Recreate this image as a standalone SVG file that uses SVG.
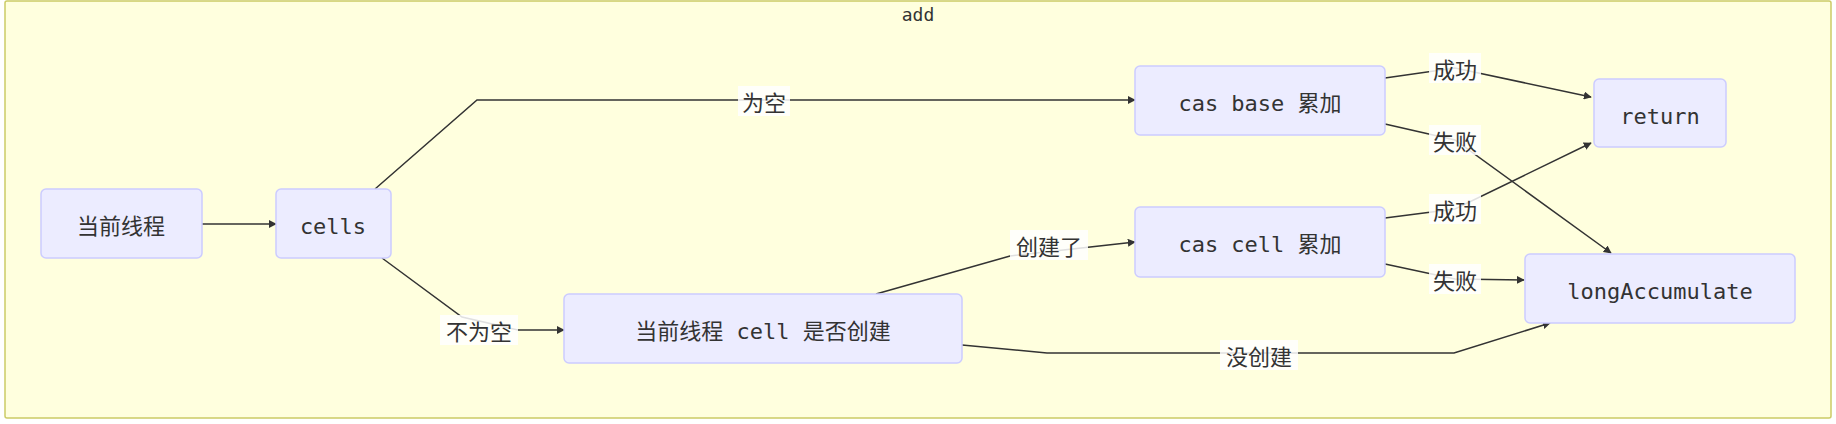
<svg xmlns="http://www.w3.org/2000/svg" width="1836" height="424" viewBox="0 0 1836 424">
<defs>
<marker id="arr" viewBox="0 0 10 10" refX="9" refY="5" markerWidth="8" markerHeight="8" orient="auto" markerUnits="userSpaceOnUse"><path d="M0,0 L10,5 L0,10 z" fill="#333"/></marker>
<style>
.n{fill:#ececff;stroke:#ccccff;stroke-width:1.5}
.t{font-family:"DejaVu Sans Mono","Noto Sans CJK SC",monospace;font-size:22px;fill:#333;text-anchor:middle;dominant-baseline:central}
.e{fill:none;stroke:#333;stroke-width:1.5}
.lb{fill:#ffffff;opacity:0.85}
.l{font-family:"Noto Sans CJK SC",sans-serif;font-size:22px;fill:#333;text-anchor:middle;dominant-baseline:central}
</style>
</defs>
<rect x="5" y="1" width="1826" height="417" rx="2" fill="#ffffde" stroke="#cccc66" stroke-width="1.5"/>
<text x="918" y="14" class="t" style="font-size:18px">add</text>
<g id="connectors">
<path class="e" d="M202,224 L276,224" marker-end="url(#arr)"/>
<path class="e" d="M375,189 L477,100 L1135,100" marker-end="url(#arr)"/>
<path class="e" d="M382,258 L462,317 L518,330 L564,330" marker-end="url(#arr)"/>
<path class="e" d="M876,294 L1010,256 L1135,242" marker-end="url(#arr)"/>
<path class="e" d="M1385,78 L1455,68 L1591,97" marker-end="url(#arr)"/>
<path class="e" d="M1385,124 L1455,140 L1611,253" marker-end="url(#arr)"/>
<path class="e" d="M1385,218 L1455,209 L1591,143" marker-end="url(#arr)"/>
<path class="e" d="M1385,264 L1455,279 L1524,280" marker-end="url(#arr)"/>
<path class="e" d="M962,345 L1047,353 L1454,353 L1550,323" marker-end="url(#arr)"/>
<rect class="lb" x="738" y="86" width="52" height="30"/><text class="l" x="764" y="101">为空</text>
<rect class="lb" x="440" y="315" width="78" height="30"/><text class="l" x="479" y="330">不为空</text>
<rect class="lb" x="1010" y="230" width="78" height="30"/><text class="l" x="1049" y="245">创建了</text>
<rect class="lb" x="1429" y="53" width="52" height="30"/><text class="l" x="1455" y="68">成功</text>
<rect class="lb" x="1429" y="125" width="52" height="30"/><text class="l" x="1455" y="140">失败</text>
<rect class="lb" x="1429" y="194" width="52" height="30"/><text class="l" x="1455" y="209">成功</text>
<rect class="lb" x="1429" y="264" width="52" height="30"/><text class="l" x="1455" y="279">失败</text>
<rect class="lb" x="1220" y="340" width="78" height="30"/><text class="l" x="1259" y="355">没创建</text>
</g>
<g id="n1"><rect class="n" x="41" y="189" width="161" height="69" rx="5"/><text class="t" x="121" y="226">当前线程</text></g>
<g id="n2"><rect class="n" x="276" y="189" width="115" height="69" rx="5"/><text class="t" x="333" y="226">cells</text></g>
<g id="n3"><rect class="n" x="564" y="294" width="398" height="69" rx="5"/><text class="t" x="763" y="331">当前线程 cell 是否创建</text></g>
<g id="n4"><rect class="n" x="1135" y="66" width="250" height="69" rx="5"/><text class="t" x="1260" y="103">cas base 累加</text></g>
<g id="n5"><rect class="n" x="1135" y="207" width="250" height="70" rx="5"/><text class="t" x="1260" y="244">cas cell 累加</text></g>
<g id="n6"><rect class="n" x="1594" y="79" width="132" height="68" rx="5"/><text class="t" x="1660" y="116">return</text></g>
<g id="n7"><rect class="n" x="1525" y="254" width="270" height="69" rx="5"/><text class="t" x="1660" y="291">longAccumulate</text></g>
</svg>
